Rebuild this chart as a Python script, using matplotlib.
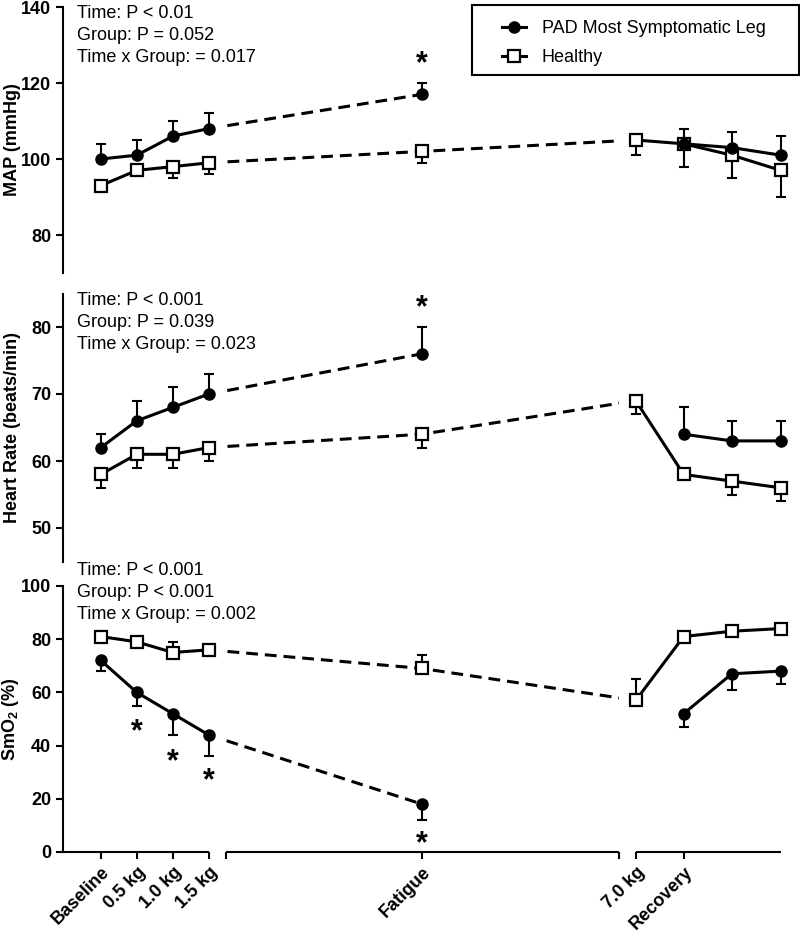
import numpy as np
import matplotlib.pyplot as plt
from matplotlib.patches import Rectangle
from matplotlib.lines import Line2D

plt.rcParams['font.family'] = ['Liberation Sans', 'DejaVu Sans']
plt.rcParams['mathtext.fontset'] = 'custom'
plt.rcParams['mathtext.rm'] = 'Liberation Sans'
plt.rcParams['mathtext.bf'] = 'Liberation Sans:bold'
plt.rcParams['mathtext.default'] = 'regular'
plt.rcParams['lines.scale_dashes'] = False

nan = np.nan

# time points along the (broken) x axis
timepoints = ['Baseline', '0.5 kg', '1.0 kg', '1.5 kg', 'Fatigue', '7.0 kg', 'Recovery', '', '']
xpos = np.array([0, 1, 2, 3, 8.92, 14.86, 16.19, 17.53, 18.89])
breaks = [3.47, 14.39]

# MAP (mmHg)
map_pad = [100, 101, 106, 108, 117, nan, 104, 103, 101]
map_pad_err = [4, 4, 4, 4, 3, nan, 4, 4, 5]
map_hc = [93, 97, 98, 99, 102, 105, 104, 101, 97]
map_hc_err = [1, 1, 3, 3, 3, 4, 6, 6, 7]

# heart rate (beats/min)
hr_pad = [62, 66, 68, 70, 76, nan, 64, 63, 63]
hr_pad_err = [2, 3, 3, 3, 4, nan, 4, 3, 3]
hr_hc = [58, 61, 61, 62, 64, 69, 58, 57, 56]
hr_hc_err = [2, 2, 2, 2, 2, 2, 0.5, 2, 2]

# SmO2 (%)
smo2_pad = [72, 60, 52, 44, 18, nan, 52, 67, 68]
smo2_pad_err = [4, 5, 8, 8, 6, nan, 5, 6, 5]
smo2_hc = [81, 79, 75, 76, 69, 57, 81, 83, 84]
smo2_hc_err = [2, 1, 4, 2, 5, 8, 1, 1, 1]

map_stats = "Time: P < 0.01\nGroup: P = 0.052\nTime x Group: = 0.017"
hr_stats = "Time: P < 0.001\nGroup: P = 0.039\nTime x Group: = 0.023"
smo2_stats = "Time: P < 0.001\nGroup: P < 0.001\nTime x Group: = 0.002"

# significance marks (time point index, y)
map_stars = [(4, 126.5)]
hr_stars = [(4, 83.7)]
smo2_stars = [(1, 47), (2, 36), (3, 28.5), (4, 5)]

LW = 2.2
FS = 13
XLIM = (-1.05, 19.3)


def draw_panel(ax, pad, pad_err, hc, hc_err, pad_up, stars):
    pad = np.array(pad, float)
    hc = np.array(hc, float)
    pad_err = np.nan_to_num(np.array(pad_err, float))
    hc_err = np.array(hc_err, float)
    z = np.zeros(len(xpos))

    # solid segments
    for sl in (slice(0, 4), slice(5, 9)):
        ax.plot(xpos[sl], hc[sl], color='k', lw=LW, zorder=2)
        ax.plot(xpos[sl], pad[sl], color='k', lw=LW, zorder=2)

    # dashed segments, clipped to the middle part of the broken axis
    clip = Rectangle((breaks[0], -1000), breaks[1] - breaks[0], 3000,
                     transform=ax.transData)
    l1, = ax.plot(xpos[3:5], pad[3:5], color='k', lw=LW, dashes=(8.5, 5), zorder=2)
    l2, = ax.plot(xpos[3:6], hc[3:6], color='k', lw=LW, dashes=(8.5, 5), zorder=2)
    l1.set_clip_path(clip)
    l2.set_clip_path(clip)

    if pad_up:
        pad_yerr, hc_yerr = [z, pad_err], [hc_err, z]
    else:
        pad_yerr, hc_yerr = [pad_err, z], [z, hc_err]
    ax.errorbar(xpos, hc, yerr=hc_yerr, fmt='none', ecolor='k', elinewidth=1.5,
                capsize=3.8, capthick=1.5, zorder=2.5)
    ax.errorbar(xpos, pad, yerr=pad_yerr, fmt='none', ecolor='k', elinewidth=1.5,
                capsize=3.8, capthick=1.5, zorder=2.5)

    ax.plot(xpos, hc, 's', ms=8.5, mfc='white', mec='k', mew=1.6, zorder=3)
    ax.plot(xpos, pad, 'o', ms=8, color='k', zorder=4)

    for i, y in stars:
        ax.annotate('*', (xpos[i], y), xytext=(0, -4), textcoords='offset points',
                    ha='center', va='center', fontsize=22, fontweight='bold',
                    annotation_clip=False)

    ax.set_xlim(*XLIM)
    for s in ('top', 'right', 'bottom'):
        ax.spines[s].set_visible(False)
    ax.spines['left'].set_linewidth(1.5)
    ax.tick_params(axis='y', width=1.5, length=5, labelsize=FS)
    for t in ax.get_yticklabels():
        t.set_fontweight('bold')


fig = plt.figure(figsize=(8, 9.34), dpi=100)
W = 800.0
H = 934.0
axw = (XLIM[1] - XLIM[0]) * 36 / W
ax1 = fig.add_axes([63 / W, 661 / H, axw, 266 / H])
ax2 = fig.add_axes([63 / W, 372.5 / H, axw, 268 / H])
ax3 = fig.add_axes([63 / W, 82 / H, axw, 266 / H])

ax1.set_ylim(70, 140)
ax1.set_yticks([80, 100, 120, 140])
ax2.set_ylim(45, 85)
ax2.set_yticks([50, 60, 70, 80])
ax3.set_ylim(0, 100)
ax3.set_yticks([0, 20, 40, 60, 80, 100])

draw_panel(ax1, map_pad, map_pad_err, map_hc, map_hc_err, True, map_stars)
draw_panel(ax2, hr_pad, hr_pad_err, hr_hc, hr_hc_err, True, hr_stars)
draw_panel(ax3, smo2_pad, smo2_pad_err, smo2_hc, smo2_hc_err, False, smo2_stars)

for ax in (ax1, ax2):
    ax.set_xticks([])

# broken x axis on the bottom panel
segs = [(XLIM[0], xpos[3]), (breaks[0], breaks[1]), (xpos[5], xpos[-1])]
for a, b in segs:
    ax3.plot([a, b], [0, 0], color='k', lw=1.5, clip_on=False, zorder=5,
             solid_capstyle='butt')
ticks = list(xpos[:4]) + [breaks[0], xpos[4], breaks[1], xpos[5], xpos[6]]
ticklabels = timepoints[:4] + ['', timepoints[4], '', timepoints[5], timepoints[6]]
ax3.set_xticks(ticks)
ax3.set_xticklabels(ticklabels, rotation=45, ha='right', rotation_mode='anchor',
                    fontsize=FS, fontweight='bold')
ax3.tick_params(axis='x', width=1.5, length=5)

for ax, lab in ((ax1, 'MAP (mmHg)'), (ax2, 'Heart Rate (beats/min)'), (ax3, 'SmO$_2$ (%)')):
    ax.set_ylabel(lab, fontsize=FS, fontweight='bold')
    ax.yaxis.set_label_coords(-0.058, 0.5)

ax1.text(0.019, 1.006, map_stats, transform=ax1.transAxes, va='top', ha='left',
         fontsize=FS, linespacing=1.38)
ax2.text(0.019, 1.007, hr_stats, transform=ax2.transAxes, va='top', ha='left',
         fontsize=FS, linespacing=1.38)
ax3.text(0.019, 1.089, smo2_stats, transform=ax3.transAxes, va='top', ha='left',
         fontsize=FS, linespacing=1.38)

# legend with a hand-drawn frame
fig.patches.append(Rectangle((472 / W, 1 - 75 / H), 327 / W, 70 / H, transform=fig.transFigure,
                             facecolor='white', edgecolor='k', lw=1.5, zorder=0))
handles = [Line2D([], [], color='k', lw=LW, marker='o', ms=8),
           Line2D([], [], color='k', lw=LW, marker='s', ms=8.5, mfc='white', mew=1.6)]
fig.legend(handles, ['PAD Most Symptomatic Leg', 'Healthy'], loc='upper left',
           bbox_to_anchor=(502 / W, 1 - 20 / H), bbox_transform=fig.transFigure,
           borderaxespad=0, borderpad=0, fontsize=FS, handlelength=1.35,
           handletextpad=0.85, labelspacing=0.68, frameon=False)

fig.savefig('out.png', dpi=100)
